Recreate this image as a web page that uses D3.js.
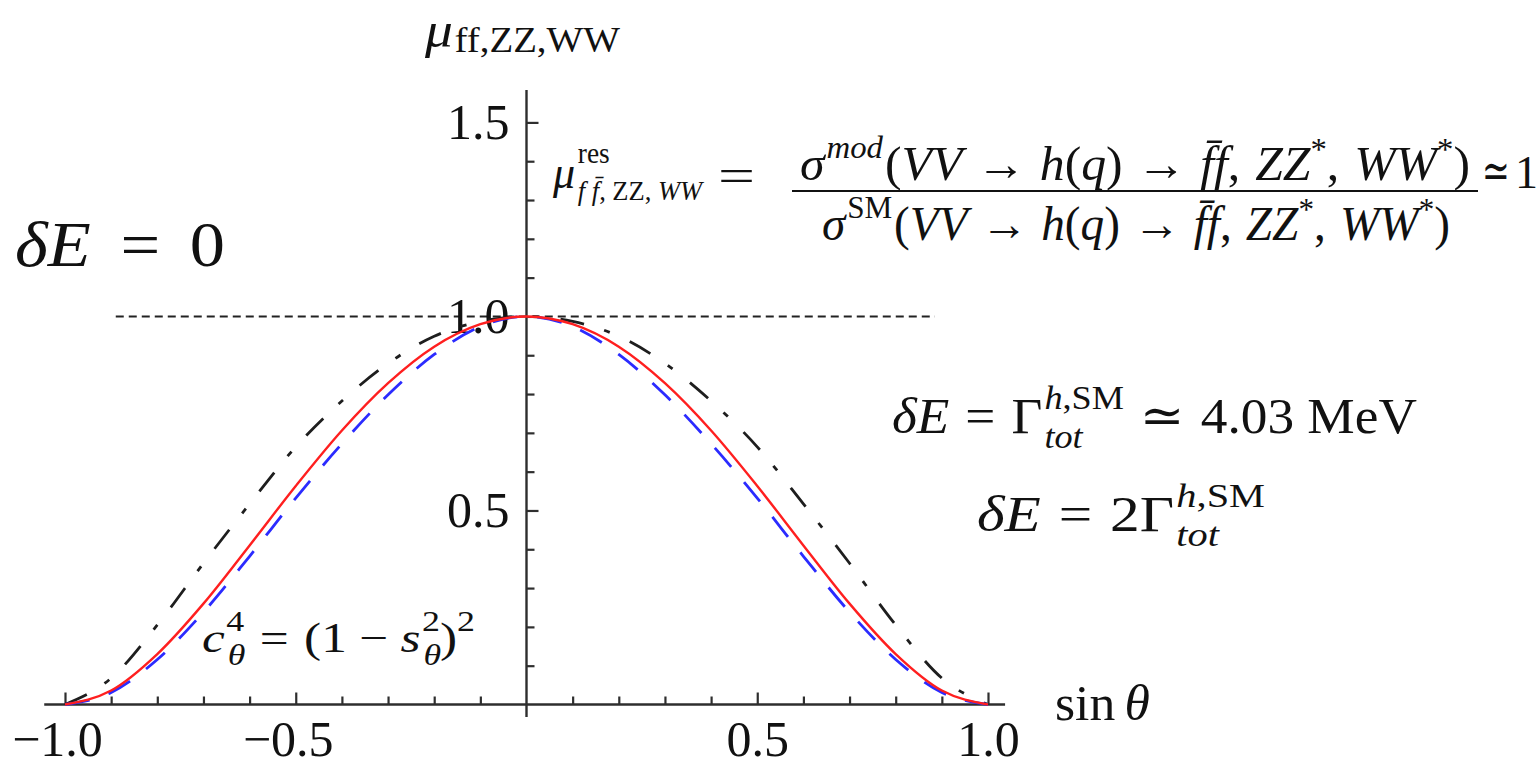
<!DOCTYPE html>
<html>
<head>
<meta charset="utf-8">
<script src="https://cdn.jsdelivr.net/npm/d3@7"></script>
<style>
  body { margin: 0; background: #fff; }
  svg { display: block; }
  text { font-family: "Liberation Serif", "DejaVu Serif", serif; fill: #111; }
</style>
</head>
<body>
<svg id="chart" width="1537" height="768"></svg>
<script>
// sin(theta) sample points
const sinTheta = [-1.0, -0.9, -0.8, -0.7, -0.6, -0.5, -0.4, -0.3, -0.2, -0.1, 0.0,
                   0.1, 0.2, 0.3, 0.4, 0.5, 0.6, 0.7, 0.8, 0.9, 1.0];
// signal strength for the three energy spreads
const muRed   = [0, 0.036, 0.130, 0.260, 0.410, 0.563, 0.706, 0.828, 0.922, 0.980, 1.0,
                 0.980, 0.922, 0.828, 0.706, 0.563, 0.410, 0.260, 0.130, 0.036, 0];
const muBlue  = [0, 0.031, 0.116, 0.238, 0.382, 0.532, 0.672, 0.798, 0.902, 0.974, 1.0,
                 0.974, 0.902, 0.798, 0.672, 0.532, 0.382, 0.238, 0.116, 0.031, 0];
const muBlack = [0, 0.068, 0.205, 0.364, 0.517, 0.664, 0.782, 0.879, 0.949, 0.987, 1.0,
                 0.987, 0.949, 0.879, 0.782, 0.664, 0.517, 0.364, 0.205, 0.068, 0];
// reference level
const refLevel = 1.0;
const refSpan = [-0.89, 0.885];
// ticks
const xMajorTicks = [-1.0, -0.5, 0.5, 1.0];
const xTickLabels = ["\u22121.0", "\u22120.5", "0.5", "1.0"];
const xMinorTicks = [-0.9, -0.8, -0.7, -0.6, -0.4, -0.3, -0.2, -0.1, 0.1, 0.2, 0.3, 0.4, 0.6, 0.7, 0.8, 0.9];
const yMajorTicks = [0.5, 1.0, 1.5];
const yTickLabels = ["0.5", "1.0", "1.5"];
const yMinorTicks = [0.1, 0.2, 0.3, 0.4, 0.6, 0.7, 0.8, 0.9, 1.1, 1.2, 1.3, 1.4];

const svg = d3.select("#chart");
const x = d3.scaleLinear().domain([-1, 1]).range([65, 988]);
const y = d3.scaleLinear().domain([0, 1.5835]).range([704.5, 90]);
const AX = "#2e2e2e";

// reference line at mu = 1
svg.append("line")
  .attr("x1", x(refSpan[0])).attr("x2", x(refSpan[1]))
  .attr("y1", y(refLevel)).attr("y2", y(refLevel))
  .attr("stroke", "#222").attr("stroke-width", 2)
  .attr("stroke-dasharray", "8,5");

// axes
const gx = svg.append("g").attr("transform", `translate(0,${y(0)})`);
gx.append("line").attr("x1", x(-1.045)).attr("x2", x(1.037))
  .attr("stroke", AX).attr("stroke-width", 2.4);
const xMajor = d3.axisBottom(x).tickValues(xMajorTicks)
  .tickFormat((d, i) => xTickLabels[i]).tickSizeInner(-12).tickSizeOuter(0).tickPadding(16);
const xMinor = d3.axisBottom(x).tickValues(xMinorTicks)
  .tickFormat("").tickSizeInner(-8).tickSizeOuter(0);
gx.append("g").call(xMinor);
gx.append("g").call(xMajor);

const gy = svg.append("g").attr("transform", `translate(${x(0)},0)`);
gy.append("line").attr("y1", y(1.5835)).attr("y2", y(-0.032))
  .attr("stroke", AX).attr("stroke-width", 2.4);
const yMajor = d3.axisLeft(y).tickValues(yMajorTicks)
  .tickFormat((d, i) => yTickLabels[i]).tickSizeInner(-12).tickSizeOuter(0).tickPadding(17);
const yMinor = d3.axisLeft(y).tickValues(yMinorTicks)
  .tickFormat("").tickSizeInner(-8).tickSizeOuter(0);
gy.append("g").call(yMinor);
gy.append("g").call(yMajor);

svg.selectAll(".domain").remove();
svg.selectAll(".tick line").attr("stroke", AX).attr("stroke-width", 2.2);
svg.selectAll(".tick text")
  .style("font-family", "'Liberation Serif', serif")
  .style("font-size", "50px").attr("fill", "#111");
gx.selectAll(".tick text").attr("dx", (d) => d < 0 ? -8 : 0);

// curves
const line = d3.line()
  .x((d, i) => x(sinTheta[i]))
  .y((d) => y(d))
  .curve(d3.curveMonotoneX);

svg.append("path").datum(muBlack)
  .attr("d", line).attr("fill", "none")
  .attr("stroke", "#1e1e1e").attr("stroke-width", 2.8)
  .attr("stroke-dasharray", "24,21,6,22");
svg.append("path").datum(muBlue)
  .attr("d", line).attr("fill", "none")
  .attr("stroke", "#2b2bff").attr("stroke-width", 2.8)
  .attr("stroke-dasharray", "25,20");
svg.append("path").datum(muRed)
  .attr("d", line).attr("fill", "none")
  .attr("stroke", "#ff1f1f").attr("stroke-width", 2.4);

// math-like text built from positioned pieces
// piece: {t (string or [[str, italic], ...]), s (size factor), sh (shift up, in base em),
//         i (italic), gap (em before), stack (next piece shares x)}
function mathText(x0, base, size, pieces, width) {
  const g = svg.append("g");
  const inner = g.append("g");
  let cx = x0, stackStart = null, stackW = 0;
  pieces.forEach(p => {
    const fs = size * (p.s || 1);
    if (p.gap) cx += p.gap * size;
    const t = inner.append("text")
      .attr("x", cx)
      .attr("y", base - (p.sh || 0) * size)
      .style("font-size", fs + "px")
      .style("font-style", p.i ? "italic" : "normal");
    if (Array.isArray(p.t)) {
      p.t.forEach(([str, it]) => t.append("tspan")
        .style("font-style", it ? "italic" : "normal").text(str));
    } else {
      t.text(p.t);
    }
    const w = t.node().getComputedTextLength();
    if (p.stack) {
      stackStart = cx; stackW = w;
    } else if (stackStart !== null) {
      cx = stackStart + Math.max(stackW, w);
      stackStart = null;
    } else {
      cx += w;
    }
  });
  if (width) {
    const bb = inner.node().getBBox();
    const k = width / (bb.x + bb.width - x0);
    inner.attr("transform", `translate(${x0},0) scale(${k},1) translate(${-x0},0)`);
  }
  return g;
}

// y axis title
mathText(425, 47, 50, [
  {t: "\u03bc", i: true},
  {t: "ff,ZZ,WW", s: 0.7, sh: -0.1, gap: 0.03}
], 195);

// delta E = 0
mathText(15, 266, 64, [
  {t: "\u03b4E", i: true},
  {t: "=", gap: 0.42},
  {t: "0", gap: 0.42}
], 210);

// signal strength definition
mathText(553, 188, 46, [
  {t: "\u03bc", i: true},
  {t: "res", s: 0.62, sh: 0.55, gap: 0.06, stack: true},
  {t: [["f f\u0304", true], [", ZZ, ", false], ["WW", true]], s: 0.6, sh: -0.26, gap: 0.0},
], 152);
mathText(718, 191, 46, [{t: "="}], 37);
const fracX0 = 792, fracX1 = 1478, fracY = 191;
svg.append("line").attr("x1", fracX0).attr("x2", fracX1)
  .attr("y1", fracY).attr("y2", fracY)
  .attr("stroke", "#111").attr("stroke-width", 2);
function crossSection(x0, base, tag, tagItalic, width) {
  return mathText(x0, base, 48, [
    {t: "\u03c3", i: true},
    {t: tag, s: 0.66, sh: 0.45, i: tagItalic, gap: 0.04},
    {t: "(", gap: 0.04},
    {t: "VV", i: true},
    {t: "\u2192", gap: 0.28},
    {t: "h", i: true, gap: 0.28},
    {t: "(" },
    {t: "q", i: true},
    {t: ")"},
    {t: "\u2192", gap: 0.28},
    {t: "f\u0304f", i: true, gap: 0.28},
    {t: ","},
    {t: "ZZ", i: true, gap: 0.3},
    {t: "*", s: 0.66, sh: 0.42},
    {t: ","},
    {t: "WW", i: true, gap: 0.3},
    {t: "*", s: 0.66, sh: 0.42},
    {t: ")"}
  ], width);
}
crossSection(800, 180, "mod", true, 670);
crossSection(822, 240, "SM", false, 628);
mathText(1482, 188, 50, [{t: "\u2243"}], 28);
mathText(1515, 188, 46, [{t: "1"}]);

// energy spread labels
mathText(892, 433, 50, [
  {t: "\u03b4E", i: true},
  {t: "=", gap: 0.3},
  {t: "\u0393", gap: 0.3},
  {t: [["h", true], [",SM", false]], s: 0.68, sh: 0.48, stack: true, gap: 0.04},
  {t: "tot", s: 0.68, sh: -0.3, i: true},
  {t: "\u2243", gap: 0.3},
  {t: "4.03", gap: 0.3},
  {t: "MeV", gap: 0.25}
], 525);
mathText(977, 531, 50, [
  {t: "\u03b4E", i: true},
  {t: "=", gap: 0.3},
  {t: "2\u0393", gap: 0.3},
  {t: [["h", true], [",SM", false]], s: 0.68, sh: 0.48, stack: true, gap: 0.04},
  {t: "tot", s: 0.68, sh: -0.3, i: true}
], 288);

// c^4 label
mathText(202, 652, 42, [
  {t: "c", i: true},
  {t: "4", s: 0.7, sh: 0.5, stack: true, gap: 0.03},
  {t: "\u03b8", s: 0.7, sh: -0.3, i: true, gap: 0.03},
  {t: "=", gap: 0.3},
  {t: "(1", gap: 0.3},
  {t: "\u2212", gap: 0.24},
  {t: "s", i: true, gap: 0.24},
  {t: "2", s: 0.7, sh: 0.5, stack: true, gap: 0.03},
  {t: "\u03b8", s: 0.7, sh: -0.3, i: true, gap: 0.03},
  {t: ")"},
  {t: "2", s: 0.7, sh: 0.5}
], 273);

// x axis title
mathText(1055, 720, 50, [
  {t: "sin"},
  {t: "\u03b8", i: true, gap: 0.18}
], 95);
</script>
</body>
</html>
